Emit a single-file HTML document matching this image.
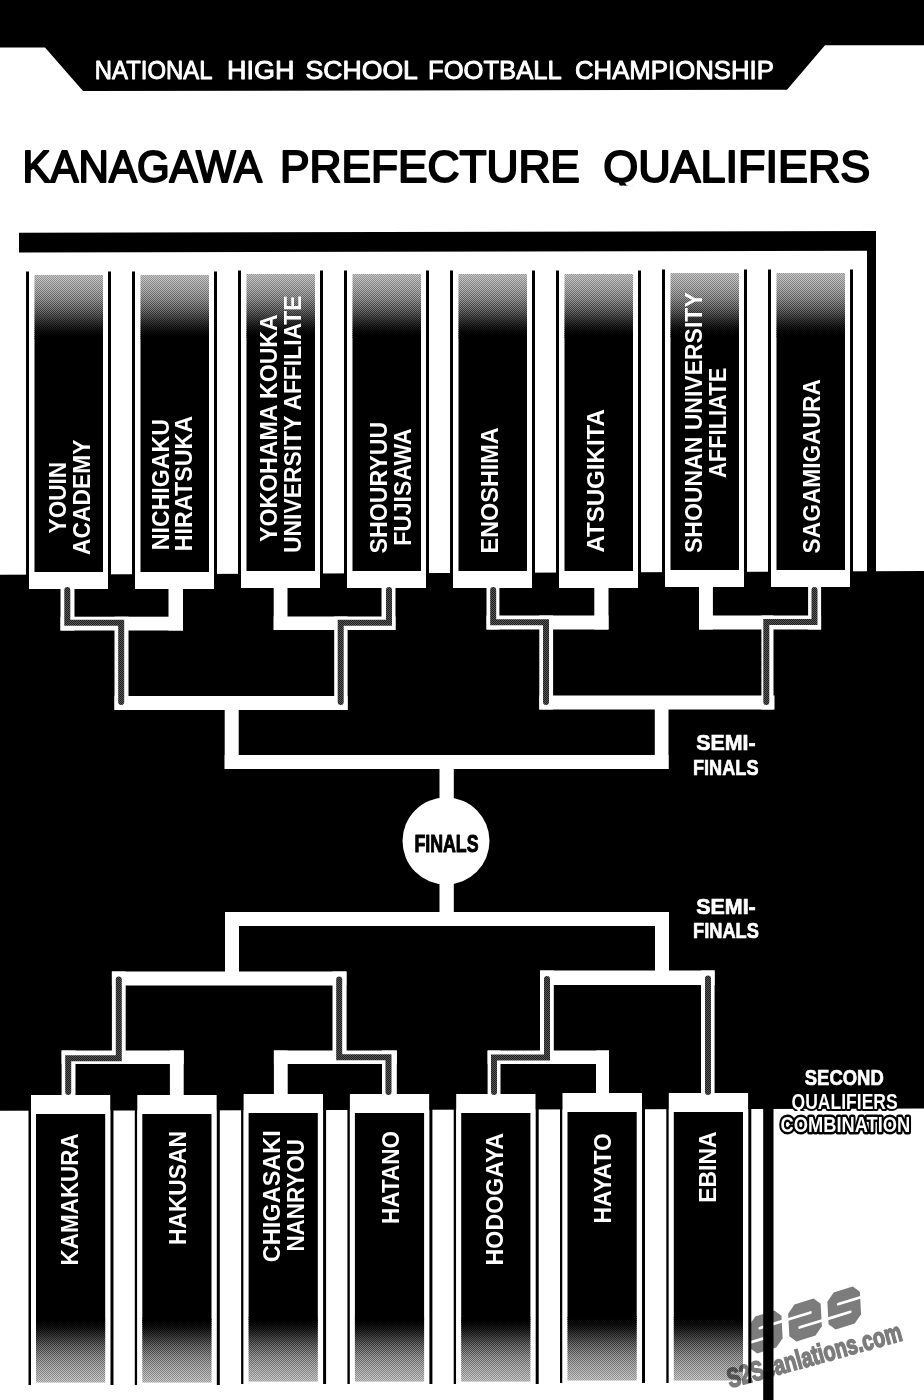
<!DOCTYPE html>
<html><head><meta charset="utf-8"><title>Kanagawa Prefecture Qualifiers</title>
<style>html,body{margin:0;padding:0;background:#fff;}svg{display:block;}</style></head>
<body><svg width="924" height="1400" viewBox="0 0 924 1400">
<defs>
<clipPath id="clipT" clipPathUnits="userSpaceOnUse"><rect x="0" y="100" width="924" height="85.5"/></clipPath>
<clipPath id="clipQ" clipPathUnits="userSpaceOnUse"><rect x="700" y="1050" width="224" height="61"/></clipPath>
<pattern id="chk" x="0" y="0" width="2" height="2" patternUnits="userSpaceOnUse"><rect x="0" y="0" width="1" height="1" fill="#000"/><rect x="1" y="1" width="1" height="1" fill="#000"/></pattern>
<pattern id="stp" x="0" y="0" width="2" height="2" patternUnits="userSpaceOnUse"><rect x="0" y="0" width="2" height="2" fill="#1e1e1e"/><rect x="1" y="0" width="1" height="1" fill="#585858"/><rect x="0" y="1" width="1" height="1" fill="#585858"/></pattern>
<linearGradient id="gtop" x1="0" y1="275" x2="0" y2="572" gradientUnits="userSpaceOnUse"><stop offset="0.0000" stop-color="#c8c8c8"/><stop offset="0.0067" stop-color="#c8c8c8"/><stop offset="0.0505" stop-color="#b4b4b4"/><stop offset="0.0842" stop-color="#9b9b9b"/><stop offset="0.1178" stop-color="#787878"/><stop offset="0.1515" stop-color="#414141"/><stop offset="0.1852" stop-color="#161616"/><stop offset="0.2088" stop-color="#000000"/><stop offset="1.0000" stop-color="#000000"/></linearGradient>
<linearGradient id="gbot" x1="0" y1="1113.5" x2="0" y2="1382.5" gradientUnits="userSpaceOnUse"><stop offset="0.0000" stop-color="#000000"/><stop offset="0.7695" stop-color="#000000"/><stop offset="0.7955" stop-color="#161616"/><stop offset="0.8327" stop-color="#414141"/><stop offset="0.8699" stop-color="#787878"/><stop offset="0.9071" stop-color="#9b9b9b"/><stop offset="0.9442" stop-color="#b4b4b4"/><stop offset="0.9926" stop-color="#c8c8c8"/><stop offset="1.0000" stop-color="#c8c8c8"/></linearGradient>
<linearGradient id="gmtop" x1="0" y1="275" x2="0" y2="340" gradientUnits="userSpaceOnUse"><stop offset="0.0000" stop-color="#404040"/><stop offset="0.0308" stop-color="#404040"/><stop offset="0.2308" stop-color="#555555"/><stop offset="0.3846" stop-color="#636363"/><stop offset="0.5385" stop-color="#808080"/><stop offset="0.6923" stop-color="#767676"/><stop offset="0.8462" stop-color="#a3a3a3"/><stop offset="0.9538" stop-color="#ffffff"/></linearGradient>
<linearGradient id="gmbot" x1="0" y1="1318" x2="0" y2="1382.5" gradientUnits="userSpaceOnUse"><stop offset="0.0388" stop-color="#ffffff"/><stop offset="0.1473" stop-color="#a3a3a3"/><stop offset="0.3023" stop-color="#767676"/><stop offset="0.4574" stop-color="#808080"/><stop offset="0.6124" stop-color="#636363"/><stop offset="0.7674" stop-color="#555555"/><stop offset="0.9690" stop-color="#404040"/><stop offset="1.0000" stop-color="#404040"/></linearGradient>
<mask id="mtop" maskUnits="userSpaceOnUse" x="0" y="270" width="924" height="75"><rect x="0" y="270" width="924" height="75" fill="url(#gmtop)"/></mask>
<mask id="mbot" maskUnits="userSpaceOnUse" x="0" y="1310" width="924" height="80"><rect x="0" y="1310" width="924" height="80" fill="url(#gmbot)"/></mask>
</defs>
<rect x="0" y="0" width="924" height="1400" fill="#fff"/>
<path d="M0,0 H924 V45.3 H825 L787,89.8 L83,91 L45,47.5 H0 Z" fill="#000"/>
<path d="M19,232.8 L876,231 L876,250.8 L19,252.4 Z" fill="#000"/>
<rect x="867.0" y="232.0" width="9.0" height="343.0" fill="#000"/>
<path d="M0,574.7 L924,571 L924,1108.5 L0,1110.8 Z" fill="#000"/>
<g transform="translate(0,0)">
<rect x="26.0" y="271.5" width="3.0" height="319.5" fill="#000"/>
<rect x="29.0" y="271.5" width="79.0" height="317.5" fill="#fff"/>
<rect x="108.0" y="271.5" width="3.0" height="319.5" fill="#000"/>
<rect x="34.5" y="275" width="68.5" height="297" fill="url(#gtop)"/>
<rect x="34.5" y="275" width="68.5" height="65" fill="url(#chk)" mask="url(#mtop)"/>
</g>
<g transform="translate(0,0)">
<rect x="132.0" y="271.5" width="3.0" height="319.5" fill="#000"/>
<rect x="135.0" y="271.5" width="79.0" height="317.5" fill="#fff"/>
<rect x="214.0" y="271.5" width="3.0" height="319.5" fill="#000"/>
<rect x="140.5" y="275" width="68.5" height="297" fill="url(#gtop)"/>
<rect x="140.5" y="275" width="68.5" height="65" fill="url(#chk)" mask="url(#mtop)"/>
</g>
<g transform="translate(0,-1)">
<rect x="238.0" y="271.5" width="3.0" height="319.5" fill="#000"/>
<rect x="241.0" y="271.5" width="79.0" height="317.5" fill="#fff"/>
<rect x="320.0" y="271.5" width="3.0" height="319.5" fill="#000"/>
<rect x="246.5" y="275" width="68.5" height="297" fill="url(#gtop)"/>
<rect x="246.5" y="275" width="68.5" height="65" fill="url(#chk)" mask="url(#mtop)"/>
</g>
<g transform="translate(0,-1)">
<rect x="344.0" y="271.5" width="3.0" height="319.5" fill="#000"/>
<rect x="347.0" y="271.5" width="79.0" height="317.5" fill="#fff"/>
<rect x="426.0" y="271.5" width="3.0" height="319.5" fill="#000"/>
<rect x="352.5" y="275" width="68.5" height="297" fill="url(#gtop)"/>
<rect x="352.5" y="275" width="68.5" height="65" fill="url(#chk)" mask="url(#mtop)"/>
</g>
<g transform="translate(0,-1)">
<rect x="450.0" y="271.5" width="3.0" height="319.5" fill="#000"/>
<rect x="453.0" y="271.5" width="79.0" height="317.5" fill="#fff"/>
<rect x="532.0" y="271.5" width="3.0" height="319.5" fill="#000"/>
<rect x="458.5" y="275" width="68.5" height="297" fill="url(#gtop)"/>
<rect x="458.5" y="275" width="68.5" height="65" fill="url(#chk)" mask="url(#mtop)"/>
</g>
<g transform="translate(0,-1)">
<rect x="556.0" y="271.5" width="3.0" height="319.5" fill="#000"/>
<rect x="559.0" y="271.5" width="79.0" height="317.5" fill="#fff"/>
<rect x="638.0" y="271.5" width="3.0" height="319.5" fill="#000"/>
<rect x="564.5" y="275" width="68.5" height="297" fill="url(#gtop)"/>
<rect x="564.5" y="275" width="68.5" height="65" fill="url(#chk)" mask="url(#mtop)"/>
</g>
<g transform="translate(0,-2)">
<rect x="662.0" y="271.5" width="3.0" height="319.5" fill="#000"/>
<rect x="665.0" y="271.5" width="79.0" height="317.5" fill="#fff"/>
<rect x="744.0" y="271.5" width="3.0" height="319.5" fill="#000"/>
<rect x="670.5" y="275" width="68.5" height="297" fill="url(#gtop)"/>
<rect x="670.5" y="275" width="68.5" height="65" fill="url(#chk)" mask="url(#mtop)"/>
</g>
<g transform="translate(0,-2)">
<rect x="768.0" y="271.5" width="3.0" height="319.5" fill="#000"/>
<rect x="771.0" y="271.5" width="79.0" height="317.5" fill="#fff"/>
<rect x="850.0" y="271.5" width="3.0" height="319.5" fill="#000"/>
<rect x="776.5" y="275" width="68.5" height="297" fill="url(#gtop)"/>
<rect x="776.5" y="275" width="68.5" height="65" fill="url(#chk)" mask="url(#mtop)"/>
</g>
<g transform="translate(0,0)">
<rect x="28.5" y="1094.0" width="2.5" height="291.0" fill="#000"/>
<rect x="31.0" y="1095.0" width="79.5" height="290.0" fill="#fff"/>
<rect x="110.5" y="1094.0" width="3.0" height="291.0" fill="#000"/>
<rect x="36.0" y="1114" width="69.2" height="268.5" fill="url(#gbot)"/>
<rect x="36.0" y="1318" width="69.2" height="64.5" fill="url(#chk)" mask="url(#mbot)"/>
</g>
<g transform="translate(0,0)">
<rect x="134.8" y="1094.0" width="2.5" height="291.0" fill="#000"/>
<rect x="137.3" y="1095.0" width="79.5" height="290.0" fill="#fff"/>
<rect x="216.8" y="1094.0" width="3.0" height="291.0" fill="#000"/>
<rect x="142.3" y="1114" width="69.2" height="268.5" fill="url(#gbot)"/>
<rect x="142.3" y="1318" width="69.2" height="64.5" fill="url(#chk)" mask="url(#mbot)"/>
</g>
<g transform="translate(0,-1)">
<rect x="241.1" y="1094.0" width="2.5" height="291.0" fill="#000"/>
<rect x="243.6" y="1095.0" width="79.5" height="290.0" fill="#fff"/>
<rect x="323.1" y="1094.0" width="3.0" height="291.0" fill="#000"/>
<rect x="248.6" y="1114" width="69.2" height="268.5" fill="url(#gbot)"/>
<rect x="248.6" y="1318" width="69.2" height="64.5" fill="url(#chk)" mask="url(#mbot)"/>
</g>
<g transform="translate(0,-1)">
<rect x="347.4" y="1094.0" width="2.5" height="291.0" fill="#000"/>
<rect x="349.9" y="1095.0" width="79.5" height="290.0" fill="#fff"/>
<rect x="429.4" y="1094.0" width="3.0" height="291.0" fill="#000"/>
<rect x="354.9" y="1114" width="69.2" height="268.5" fill="url(#gbot)"/>
<rect x="354.9" y="1318" width="69.2" height="64.5" fill="url(#chk)" mask="url(#mbot)"/>
</g>
<g transform="translate(0,-1)">
<rect x="453.7" y="1094.0" width="2.5" height="291.0" fill="#000"/>
<rect x="456.2" y="1095.0" width="79.5" height="290.0" fill="#fff"/>
<rect x="535.7" y="1094.0" width="3.0" height="291.0" fill="#000"/>
<rect x="461.2" y="1114" width="69.2" height="268.5" fill="url(#gbot)"/>
<rect x="461.2" y="1318" width="69.2" height="64.5" fill="url(#chk)" mask="url(#mbot)"/>
</g>
<g transform="translate(0,-2)">
<rect x="560.0" y="1094.0" width="2.5" height="291.0" fill="#000"/>
<rect x="562.5" y="1095.0" width="79.5" height="290.0" fill="#fff"/>
<rect x="642.0" y="1094.0" width="3.0" height="291.0" fill="#000"/>
<rect x="567.5" y="1114" width="69.2" height="268.5" fill="url(#gbot)"/>
<rect x="567.5" y="1318" width="69.2" height="64.5" fill="url(#chk)" mask="url(#mbot)"/>
</g>
<g transform="translate(0,-2)">
<rect x="666.3" y="1094.0" width="2.5" height="291.0" fill="#000"/>
<rect x="668.8" y="1095.0" width="79.5" height="290.0" fill="#fff"/>
<rect x="748.3" y="1094.0" width="3.0" height="291.0" fill="#000"/>
<rect x="673.8" y="1114" width="69.2" height="268.5" fill="url(#gbot)"/>
<rect x="673.8" y="1318" width="69.2" height="64.5" fill="url(#chk)" mask="url(#mbot)"/>
</g>
<rect x="763.2" y="1108.0" width="10.3" height="292.0" fill="#000"/>
<rect x="60.5" y="587.0" width="14.0" height="43.5" fill="#fff"/>
<rect x="168.5" y="587.0" width="14.5" height="43.5" fill="#fff"/>
<rect x="60.5" y="616.7" width="122.5" height="13.8" fill="#fff"/>
<rect x="114.5" y="616.7" width="14.0" height="93.3" fill="#fff"/>
<rect x="273.7" y="587.0" width="13.8" height="43.0" fill="#fff"/>
<rect x="381.5" y="587.0" width="14.0" height="43.0" fill="#fff"/>
<rect x="273.7" y="616.5" width="121.8" height="13.5" fill="#fff"/>
<rect x="334.2" y="616.5" width="13.4" height="93.5" fill="#fff"/>
<rect x="486.5" y="587.0" width="12.9" height="42.5" fill="#fff"/>
<rect x="594.3" y="587.0" width="14.2" height="42.5" fill="#fff"/>
<rect x="486.5" y="615.5" width="122.0" height="14.0" fill="#fff"/>
<rect x="539.3" y="615.5" width="13.8" height="94.0" fill="#fff"/>
<rect x="699.0" y="587.0" width="13.9" height="42.5" fill="#fff"/>
<rect x="808.1" y="587.0" width="13.0" height="42.5" fill="#fff"/>
<rect x="699.0" y="615.5" width="122.1" height="14.0" fill="#fff"/>
<rect x="761.4" y="615.5" width="12.1" height="94.0" fill="#fff"/>
<rect x="114.5" y="696.0" width="233.1" height="14.0" fill="#fff"/>
<rect x="539.3" y="695.5" width="235.2" height="14.0" fill="#fff"/>
<rect x="224.7" y="696.0" width="14.0" height="73.0" fill="#fff"/>
<rect x="654.8" y="700.0" width="13.7" height="69.0" fill="#fff"/>
<rect x="224.7" y="755.0" width="443.8" height="14.0" fill="#fff"/>
<rect x="439.5" y="755.0" width="14.3" height="171.0" fill="#fff"/>
<circle cx="446" cy="841" r="43.5" fill="#fff"/>
<rect x="225.0" y="912.0" width="444.0" height="14.0" fill="#fff"/>
<rect x="225.0" y="912.0" width="14.0" height="73.0" fill="#fff"/>
<rect x="655.0" y="912.0" width="14.0" height="73.0" fill="#fff"/>
<rect x="111.9" y="971.5" width="234.4" height="14.0" fill="#fff"/>
<rect x="540.2" y="970.5" width="174.4" height="14.5" fill="#fff"/>
<rect x="61.6" y="1050.5" width="13.9" height="45.5" fill="#fff"/>
<rect x="169.9" y="1050.5" width="13.8" height="45.5" fill="#fff"/>
<rect x="61.6" y="1050.5" width="122.1" height="13.5" fill="#fff"/>
<rect x="111.9" y="971.5" width="13.8" height="92.5" fill="#fff"/>
<rect x="273.9" y="1050.5" width="13.8" height="45.5" fill="#fff"/>
<rect x="382.0" y="1050.5" width="14.8" height="45.5" fill="#fff"/>
<rect x="273.9" y="1050.5" width="122.9" height="13.5" fill="#fff"/>
<rect x="332.5" y="971.5" width="14.1" height="92.5" fill="#fff"/>
<rect x="487.6" y="1050.5" width="12.9" height="45.5" fill="#fff"/>
<rect x="596.0" y="1050.5" width="13.0" height="45.5" fill="#fff"/>
<rect x="487.6" y="1050.5" width="121.4" height="13.5" fill="#fff"/>
<rect x="540.0" y="970.5" width="13.8" height="93.5" fill="#fff"/>
<rect x="701.0" y="970.5" width="13.6" height="125.5" fill="#fff"/>
<path d="M67.3,590.0 L67.3,622.8 L121.2,622.8 L121.2,702.0" fill="none" stroke="url(#stp)" stroke-width="6" stroke-linejoin="miter" stroke-linecap="round"/>
<path d="M389.0,590.0 L389.0,622.8 L340.7,622.8 L340.7,702.0" fill="none" stroke="url(#stp)" stroke-width="6" stroke-linejoin="miter" stroke-linecap="round"/>
<path d="M493.2,590.0 L493.2,622.3 L546.0,622.3 L546.0,702.0" fill="none" stroke="url(#stp)" stroke-width="6" stroke-linejoin="miter" stroke-linecap="round"/>
<path d="M814.5,590.0 L814.5,622.0 L766.3,622.0 L766.3,702.0" fill="none" stroke="url(#stp)" stroke-width="6" stroke-linejoin="miter" stroke-linecap="round"/>
<path d="M68.2,1092.0 L68.2,1058.3 L118.8,1058.3 L118.8,979.5" fill="none" stroke="url(#stp)" stroke-width="6" stroke-linejoin="miter" stroke-linecap="round"/>
<path d="M388.5,1092.0 L388.5,1057.3 L339.2,1057.3 L339.2,979.5" fill="none" stroke="url(#stp)" stroke-width="6" stroke-linejoin="miter" stroke-linecap="round"/>
<path d="M494.0,1092.0 L494.0,1057.5 L547.0,1057.5 L547.0,979.0" fill="none" stroke="url(#stp)" stroke-width="6" stroke-linejoin="miter" stroke-linecap="round"/>
<path d="M708.0,1092.0 L708.0,978.5" fill="none" stroke="url(#stp)" stroke-width="6" stroke-linejoin="miter" stroke-linecap="round"/>
<text transform="translate(66.2,533.4) rotate(-90)" font-family='"Liberation Sans", sans-serif' font-weight="bold" font-size="24.2" fill="#fff" textLength="71.49" lengthAdjust="spacingAndGlyphs">YOUIN</text>
<text transform="translate(90.0,555.0) rotate(-90)" font-family='"Liberation Sans", sans-serif' font-weight="bold" font-size="24.2" fill="#fff" textLength="115.4" lengthAdjust="spacingAndGlyphs">ACADEMY</text>
<text transform="translate(169.0,550.2) rotate(-90)" font-family='"Liberation Sans", sans-serif' font-weight="bold" font-size="24.2" fill="#fff" textLength="131.06" lengthAdjust="spacingAndGlyphs">NICHIGAKU</text>
<text transform="translate(192.25,551.2) rotate(-90)" font-family='"Liberation Sans", sans-serif' font-weight="bold" font-size="24.2" fill="#fff" textLength="135.36" lengthAdjust="spacingAndGlyphs">HIRATSUKA</text>
<text transform="translate(276.75,542.0) rotate(-90)" font-family='"Liberation Sans", sans-serif' font-weight="bold" font-size="24.2" fill="#fff" textLength="227.77" lengthAdjust="spacingAndGlyphs">YOKOHAMA KOUKA</text>
<text transform="translate(301.25,553.0) rotate(-90)" font-family='"Liberation Sans", sans-serif' font-weight="bold" font-size="24.2" fill="#fff" textLength="257.6" lengthAdjust="spacingAndGlyphs">UNIVERSITY AFFILIATE</text>
<text transform="translate(386.6,553.4) rotate(-90)" font-family='"Liberation Sans", sans-serif' font-weight="bold" font-size="24.2" fill="#fff" textLength="131.65" lengthAdjust="spacingAndGlyphs">SHOURYUU</text>
<text transform="translate(410.85,545.8) rotate(-90)" font-family='"Liberation Sans", sans-serif' font-weight="bold" font-size="24.2" fill="#fff" textLength="117.44" lengthAdjust="spacingAndGlyphs">FUJISAWA</text>
<text transform="translate(498.3,553.4) rotate(-90)" font-family='"Liberation Sans", sans-serif' font-weight="bold" font-size="24.2" fill="#fff" textLength="126.1" lengthAdjust="spacingAndGlyphs">ENOSHIMA</text>
<text transform="translate(604.1,552.6) rotate(-90)" font-family='"Liberation Sans", sans-serif' font-weight="bold" font-size="24.2" fill="#fff" textLength="143.47" lengthAdjust="spacingAndGlyphs">ATSUGIKITA</text>
<text transform="translate(702.0,553.0) rotate(-90)" font-family='"Liberation Sans", sans-serif' font-weight="bold" font-size="24.2" fill="#fff" textLength="260.73" lengthAdjust="spacingAndGlyphs">SHOUNAN UNIVERSITY</text>
<text transform="translate(726.0,478.0) rotate(-90)" font-family='"Liberation Sans", sans-serif' font-weight="bold" font-size="24.2" fill="#fff" textLength="110.25" lengthAdjust="spacingAndGlyphs">AFFILIATE</text>
<text transform="translate(820.35,553.4) rotate(-90)" font-family='"Liberation Sans", sans-serif' font-weight="bold" font-size="24.2" fill="#fff" textLength="174.35" lengthAdjust="spacingAndGlyphs">SAGAMIGAURA</text>
<text transform="translate(78.0,1265.4) rotate(-90)" font-family='"Liberation Sans", sans-serif' font-weight="bold" font-size="24.2" fill="#fff" textLength="132.08" lengthAdjust="spacingAndGlyphs">KAMAKURA</text>
<text transform="translate(186.1,1245.0) rotate(-90)" font-family='"Liberation Sans", sans-serif' font-weight="bold" font-size="24.2" fill="#fff" textLength="113.93" lengthAdjust="spacingAndGlyphs">HAKUSAN</text>
<text transform="translate(279.65,1262.2) rotate(-90)" font-family='"Liberation Sans", sans-serif' font-weight="bold" font-size="24.2" fill="#fff" textLength="132.06" lengthAdjust="spacingAndGlyphs">CHIGASAKI</text>
<text transform="translate(303.8,1251.6) rotate(-90)" font-family='"Liberation Sans", sans-serif' font-weight="bold" font-size="24.2" fill="#fff" textLength="112.49" lengthAdjust="spacingAndGlyphs">NANRYOU</text>
<text transform="translate(399.2,1224.0) rotate(-90)" font-family='"Liberation Sans", sans-serif' font-weight="bold" font-size="24.2" fill="#fff" textLength="93.12" lengthAdjust="spacingAndGlyphs">HATANO</text>
<text transform="translate(503.05,1265.4) rotate(-90)" font-family='"Liberation Sans", sans-serif' font-weight="bold" font-size="24.2" fill="#fff" textLength="132.5" lengthAdjust="spacingAndGlyphs">HODOGAYA</text>
<text transform="translate(610.7,1223.6) rotate(-90)" font-family='"Liberation Sans", sans-serif' font-weight="bold" font-size="24.2" fill="#fff" textLength="90.45" lengthAdjust="spacingAndGlyphs">HAYATO</text>
<text transform="translate(716.35,1202.8) rotate(-90)" font-family='"Liberation Sans", sans-serif' font-weight="bold" font-size="24.2" fill="#fff" textLength="71.49" lengthAdjust="spacingAndGlyphs">EBINA</text>
<text x="94.8" y="79.0" font-family='"Liberation Sans", sans-serif' font-weight="normal" font-size="25.1" fill="#fff" stroke="#fff" stroke-width="0.9" stroke-linejoin="round" stroke-linecap="round" textLength="117.66" lengthAdjust="spacingAndGlyphs">NATIONAL</text>
<text x="227.0" y="79.0" font-family='"Liberation Sans", sans-serif' font-weight="normal" font-size="25.1" fill="#fff" stroke="#fff" stroke-width="0.9" stroke-linejoin="round" stroke-linecap="round" textLength="67.4" lengthAdjust="spacingAndGlyphs">HIGH</text>
<text x="305.4" y="79.0" font-family='"Liberation Sans", sans-serif' font-weight="normal" font-size="25.1" fill="#fff" stroke="#fff" stroke-width="0.9" stroke-linejoin="round" stroke-linecap="round" textLength="112.56" lengthAdjust="spacingAndGlyphs">SCHOOL</text>
<text x="428.0" y="79.0" font-family='"Liberation Sans", sans-serif' font-weight="normal" font-size="25.1" fill="#fff" stroke="#fff" stroke-width="0.9" stroke-linejoin="round" stroke-linecap="round" textLength="133.75" lengthAdjust="spacingAndGlyphs">FOOTBALL</text>
<text x="575.0" y="79.0" font-family='"Liberation Sans", sans-serif' font-weight="normal" font-size="25.1" fill="#fff" stroke="#fff" stroke-width="0.9" stroke-linejoin="round" stroke-linecap="round" textLength="198.87" lengthAdjust="spacingAndGlyphs">CHAMPIONSHIP</text>
<text x="22.6" y="182.2" font-family='"Liberation Sans", sans-serif' font-weight="normal" font-size="44.7" fill="#000" stroke="#000" stroke-width="2.0" stroke-linejoin="round" stroke-linecap="round" textLength="239.54" lengthAdjust="spacingAndGlyphs">KANAGAWA</text>
<text x="280.0" y="182.2" font-family='"Liberation Sans", sans-serif' font-weight="normal" font-size="44.7" fill="#000" stroke="#000" stroke-width="2.0" stroke-linejoin="round" stroke-linecap="round" textLength="299.85" lengthAdjust="spacingAndGlyphs">PREFECTURE</text>
<text x="603.2" y="182.2" clip-path="url(#clipT)" font-family='"Liberation Sans", sans-serif' font-weight="normal" font-size="44.7" fill="#000" stroke="#000" stroke-width="2.0" stroke-linejoin="round" stroke-linecap="round" textLength="267.13" lengthAdjust="spacingAndGlyphs">QUALIFIERS</text>
<text x="696.2" y="750.2" font-family='"Liberation Sans", sans-serif' font-weight="bold" font-size="22.62" fill="#fff" stroke="#fff" stroke-width="0.7" stroke-linejoin="round" textLength="59.35" lengthAdjust="spacingAndGlyphs">SEMI-</text>
<text x="693.0" y="774.8" font-family='"Liberation Sans", sans-serif' font-weight="bold" font-size="22.62" fill="#fff" stroke="#fff" stroke-width="0.7" stroke-linejoin="round" textLength="65.51" lengthAdjust="spacingAndGlyphs">FINALS</text>
<text x="696.2" y="913.8" font-family='"Liberation Sans", sans-serif' font-weight="bold" font-size="22.06" fill="#fff" stroke="#fff" stroke-width="0.7" stroke-linejoin="round" textLength="59.54" lengthAdjust="spacingAndGlyphs">SEMI-</text>
<text x="693.0" y="938.0" font-family='"Liberation Sans", sans-serif' font-weight="bold" font-size="22.07" fill="#fff" stroke="#fff" stroke-width="0.7" stroke-linejoin="round" textLength="65.92" lengthAdjust="spacingAndGlyphs">FINALS</text>
<text x="414.4" y="852.4" font-family='"Liberation Sans", sans-serif' font-weight="bold" font-size="23.8" fill="#000" stroke="#000" stroke-width="1.0" stroke-linejoin="round" textLength="64.08" lengthAdjust="spacingAndGlyphs">FINALS</text>
<text x="804.8" y="1084.6" font-family='"Liberation Sans", sans-serif' font-weight="bold" font-size="22.06" fill="#fff" stroke="#fff" stroke-width="0.7" stroke-linejoin="round" textLength="78.92" lengthAdjust="spacingAndGlyphs">SECOND</text>
<text x="791.6" y="1108.5" font-family='"Liberation Sans", sans-serif' font-weight="bold" font-size="22" fill="#fff" stroke="#000" stroke-width="4" stroke-linejoin="round" paint-order="stroke" clip-path="url(#clipQ)" textLength="106.09" lengthAdjust="spacingAndGlyphs">QUALIFIERS</text>
<text x="780.6" y="1131.8" font-family='"Liberation Sans", sans-serif' font-weight="bold" font-size="22.07" fill="#fff" stroke="#000" stroke-width="5" stroke-linejoin="round" paint-order="stroke" textLength="129.61" lengthAdjust="spacingAndGlyphs">COMBINATION</text>
<g style="mix-blend-mode:multiply"><g transform="translate(805,1320) rotate(-17) skewX(-14)"><path d="M-51.0,-18.0 L-31.0,-18.0 L-24.0,-11.0 L-24.0,11.0 L-31.0,18.0 L-51.0,18.0 L-58.0,11.0 L-58.0,-11.0 Z" fill="#7c7c7c"/><path d="M-23.0,-5.5 L-47.0,-5.5" stroke="#fff" stroke-width="2.8" stroke-linecap="round"/><path d="M-59.0,5.5 L-35.0,5.5" stroke="#fff" stroke-width="2.8" stroke-linecap="round"/><path d="M-10.0,-18.0 L10.0,-18.0 L17.0,-11.0 L17.0,11.0 L10.0,18.0 L-10.0,18.0 L-17.0,11.0 L-17.0,-11.0 Z" fill="#7c7c7c"/><path d="M-18.0,-5.5 L6.0,-5.5" stroke="#fff" stroke-width="2.8" stroke-linecap="round"/><path d="M18.0,5.5 L-6.0,5.5" stroke="#fff" stroke-width="2.8" stroke-linecap="round"/><path d="M31.0,-18.0 L51.0,-18.0 L58.0,-11.0 L58.0,11.0 L51.0,18.0 L31.0,18.0 L24.0,11.0 L24.0,-11.0 Z" fill="#7c7c7c"/><path d="M59.0,-5.5 L35.0,-5.5" stroke="#fff" stroke-width="2.8" stroke-linecap="round"/><path d="M23.0,5.5 L47.0,5.5" stroke="#fff" stroke-width="2.8" stroke-linecap="round"/></g><text transform="translate(730,1388) rotate(-15.4)" font-family='"Liberation Sans", sans-serif' font-weight="bold" font-size="27" fill="#7c7c7c" stroke="#7c7c7c" stroke-width="1.6" textLength="180" lengthAdjust="spacingAndGlyphs">S2Scanlations.com</text></g>
</svg></body></html>
